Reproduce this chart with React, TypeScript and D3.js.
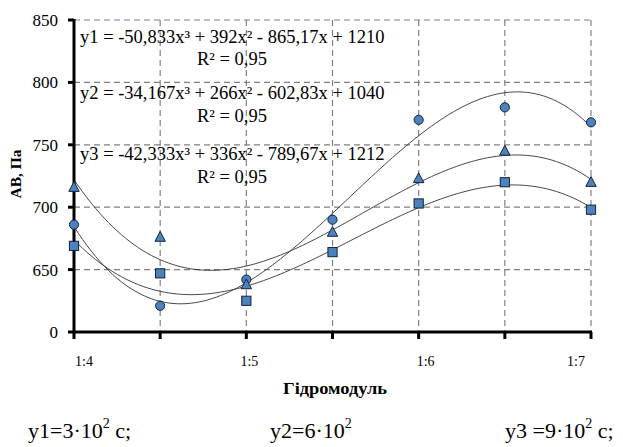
import React from 'react';
import * as d3 from 'd3';

const categories = ['1:4', '', '1:5', '', '1:6', '', '1:7'];
const xIndex = [1, 2, 3, 4, 5, 6, 7];
const circleValues = [686, 621, 642, 690, 770, 780, 768];
const triangleValues = [716, 676, 638, 680, 723, 745, 720];
const squareValues = [669, 647, 625, 664, 703, 720, 698];
const yTicks = [600, 650, 700, 750, 800, 850];
const equationLines = [
  'y1 = -50,833x³ + 392x² - 865,17x + 1210',
  'y2 = -34,167x³ + 266x² - 602,83x + 1040',
  'y3 = -42,333x³ + 336x² - 789,67x + 1212',
];
const r2Text = 'R² = 0,95';
const xTitle = 'Гідромодуль';
const yTitle = 'АВ, Па';
const noteLabels = [
  { pre: 'y1=3·10', sup: '2', post: ' c;' },
  { pre: 'y2=6·10', sup: '2', post: '' },
  { pre: 'y3 =9·10', sup: '2', post: ' c;' },
];

// least-squares cubic fit (trendline)
function cubicFit(xs: number[], ys: number[]): number[] {
  const n = 4;
  const A: number[][] = Array.from({ length: n }, () => new Array(n + 1).fill(0));
  for (let k = 0; k < xs.length; k++) {
    for (let i = 0; i < n; i++) {
      for (let j = 0; j < n; j++) A[i][j] += Math.pow(xs[k], i + j);
      A[i][n] += ys[k] * Math.pow(xs[k], i);
    }
  }
  for (let c = 0; c < n; c++) {
    let p = c;
    for (let r = c + 1; r < n; r++) if (Math.abs(A[r][c]) > Math.abs(A[p][c])) p = r;
    [A[c], A[p]] = [A[p], A[c]];
    for (let r = 0; r < n; r++) {
      if (r === c) continue;
      const f = A[r][c] / A[c][c];
      for (let j = c; j <= n; j++) A[r][j] -= f * A[c][j];
    }
  }
  return A.map((row, i) => row[n] / row[i]);
}

const W = 623;
const H = 447;
const x = d3.scaleLinear().domain([1, 7]).range([74, 591]);
const y = d3.scaleLinear().domain([600, 850]).range([332, 20]);

const serif = "'Liberation Serif'";

export default function App() {
  const series = [
    { values: circleValues, shape: 'circle' },
    { values: triangleValues, shape: 'triangle' },
    { values: squareValues, shape: 'square' },
  ];
  const samples = d3.range(1, 7.0001, 0.05);
  const line = d3
    .line<[number, number]>()
    .x((d) => x(d[0]))
    .y((d) => y(d[1]));

  const fill = '#4f81bd';
  const stroke = '#10243e';

  const marker = (shape: string, cx: number, cy: number, key: string) => {
    if (shape === 'circle')
      return <circle key={key} cx={cx} cy={cy} r={4.6} fill={fill} stroke={stroke} strokeWidth={1} />;
    if (shape === 'square')
      return <rect key={key} x={cx - 4.6} y={cy - 4.6} width={9.2} height={9.2} fill={fill} stroke={stroke} strokeWidth={1} />;
    const s = 5.2;
    return (
      <path
        key={key}
        d={`M${cx},${cy - s - 0.5}L${cx + s},${cy + s * 0.8}L${cx - s},${cy + s * 0.8}Z`}
        fill={fill}
        stroke={stroke}
        strokeWidth={1}
      />
    );
  };

  const labelOffsets = [10, 0, 3, 0, 7, 0, -15];
  const ts = { fontFamily: serif };

  return (
    <svg width={W} height={H} style={{ position: 'absolute', left: 0, top: 0, background: '#fff' }}>
      <defs>
        <clipPath id="clip600">
          <rect x={49} y={300} width={40} height={50} />
        </clipPath>
      </defs>
      <rect x={0} y={0} width={W} height={H} fill="#fff" />
      {/* grid */}
      {yTicks.slice(1).map((t) => (
        <line key={'h' + t} x1={x(1)} x2={x(7)} y1={y(t)} y2={y(t)} stroke="#808080" strokeWidth={1.2} strokeDasharray="6,4" />
      ))}
      {xIndex.slice(1).map((v) => (
        <line key={'v' + v} x1={x(v)} x2={x(v)} y1={y(850)} y2={y(600)} stroke="#808080" strokeWidth={1.2} strokeDasharray="6,4" />
      ))}
      {/* equations */}
      {equationLines.map((eq, i) => (
        <g key={'eq' + i}>
          <text x={80} y={[43, 99, 160][i]} fontSize={18.5} fill="#000" style={ts}>
            {eq}
          </text>
          <text x={232} y={[65, 122, 183][i]} fontSize={18.5} textAnchor="middle" fill="#000" style={ts}>
            {r2Text}
          </text>
        </g>
      ))}
      {/* trendlines */}
      {series.map((s, i) => {
        const c = cubicFit(xIndex, s.values);
        const pts: [number, number][] = samples.map((t) => [t, c[0] + c[1] * t + c[2] * t * t + c[3] * t * t * t]);
        return <path key={'tl' + i} d={line(pts) || ''} fill="none" stroke="#333" strokeWidth={0.9} />;
      })}
      {/* axes */}
      <line x1={x(1)} x2={x(1)} y1={y(850) - 1} y2={y(600) + 1.5} stroke="#000" strokeWidth={3} />
      <line x1={x(1) - 1.5} x2={x(7) + 1} y1={y(600)} y2={y(600)} stroke="#000" strokeWidth={3} />
      {yTicks.map((t) => (
        <line key={'yt' + t} x1={x(1) - 6} x2={x(1)} y1={y(t)} y2={y(t)} stroke="#000" strokeWidth={3} />
      ))}
      {xIndex.map((v) => (
        <line key={'xt' + v} x1={x(v)} x2={x(v)} y1={y(600)} y2={y(600) + 7} stroke="#000" strokeWidth={3} />
      ))}
      {/* y tick labels */}
      {yTicks.map((t) => (
        <text
          key={'yl' + t}
          x={58}
          y={y(t) + 6}
          fontSize={17}
          textAnchor="end"
          fill="#000"
          style={ts}
          clipPath={t === 600 ? 'url(#clip600)' : undefined}
        >
          {t}
        </text>
      ))}
      {/* x tick labels */}
      {categories.map((c, i) =>
        c ? (
          <text key={'xl' + i} x={x(xIndex[i]) + labelOffsets[i]} y={366} fontSize={14} textAnchor="middle" fill="#000" style={ts}>
            {c}
          </text>
        ) : null
      )}
      {/* markers */}
      {series.map((s, si) => s.values.map((v, i) => marker(s.shape, x(xIndex[i]), y(v), `m${si}-${i}`)))}
      {/* axis titles */}
      <text
        x={283}
        y={394}
        fontSize={16}
        fontWeight="bold"
        textLength={104}
        lengthAdjust="spacingAndGlyphs"
        fill="#000"
        style={ts}
      >
        {xTitle}
      </text>
      <text transform="translate(21,174) rotate(-90)" fontSize={15.5} fontWeight="bold" textAnchor="middle" fill="#000" style={ts}>
        {yTitle}
      </text>
      {/* notes */}
      {noteLabels.map((n, i) => (
        <text key={'n' + i} x={[28, 270, 505][i]} y={438} fontSize={22} fill="#000" style={ts}>
          {n.pre}
          <tspan fontSize={14} dy={-10}>
            {n.sup}
          </tspan>
          <tspan dy={10}>{n.post}</tspan>
        </text>
      ))}
    </svg>
  );
}
